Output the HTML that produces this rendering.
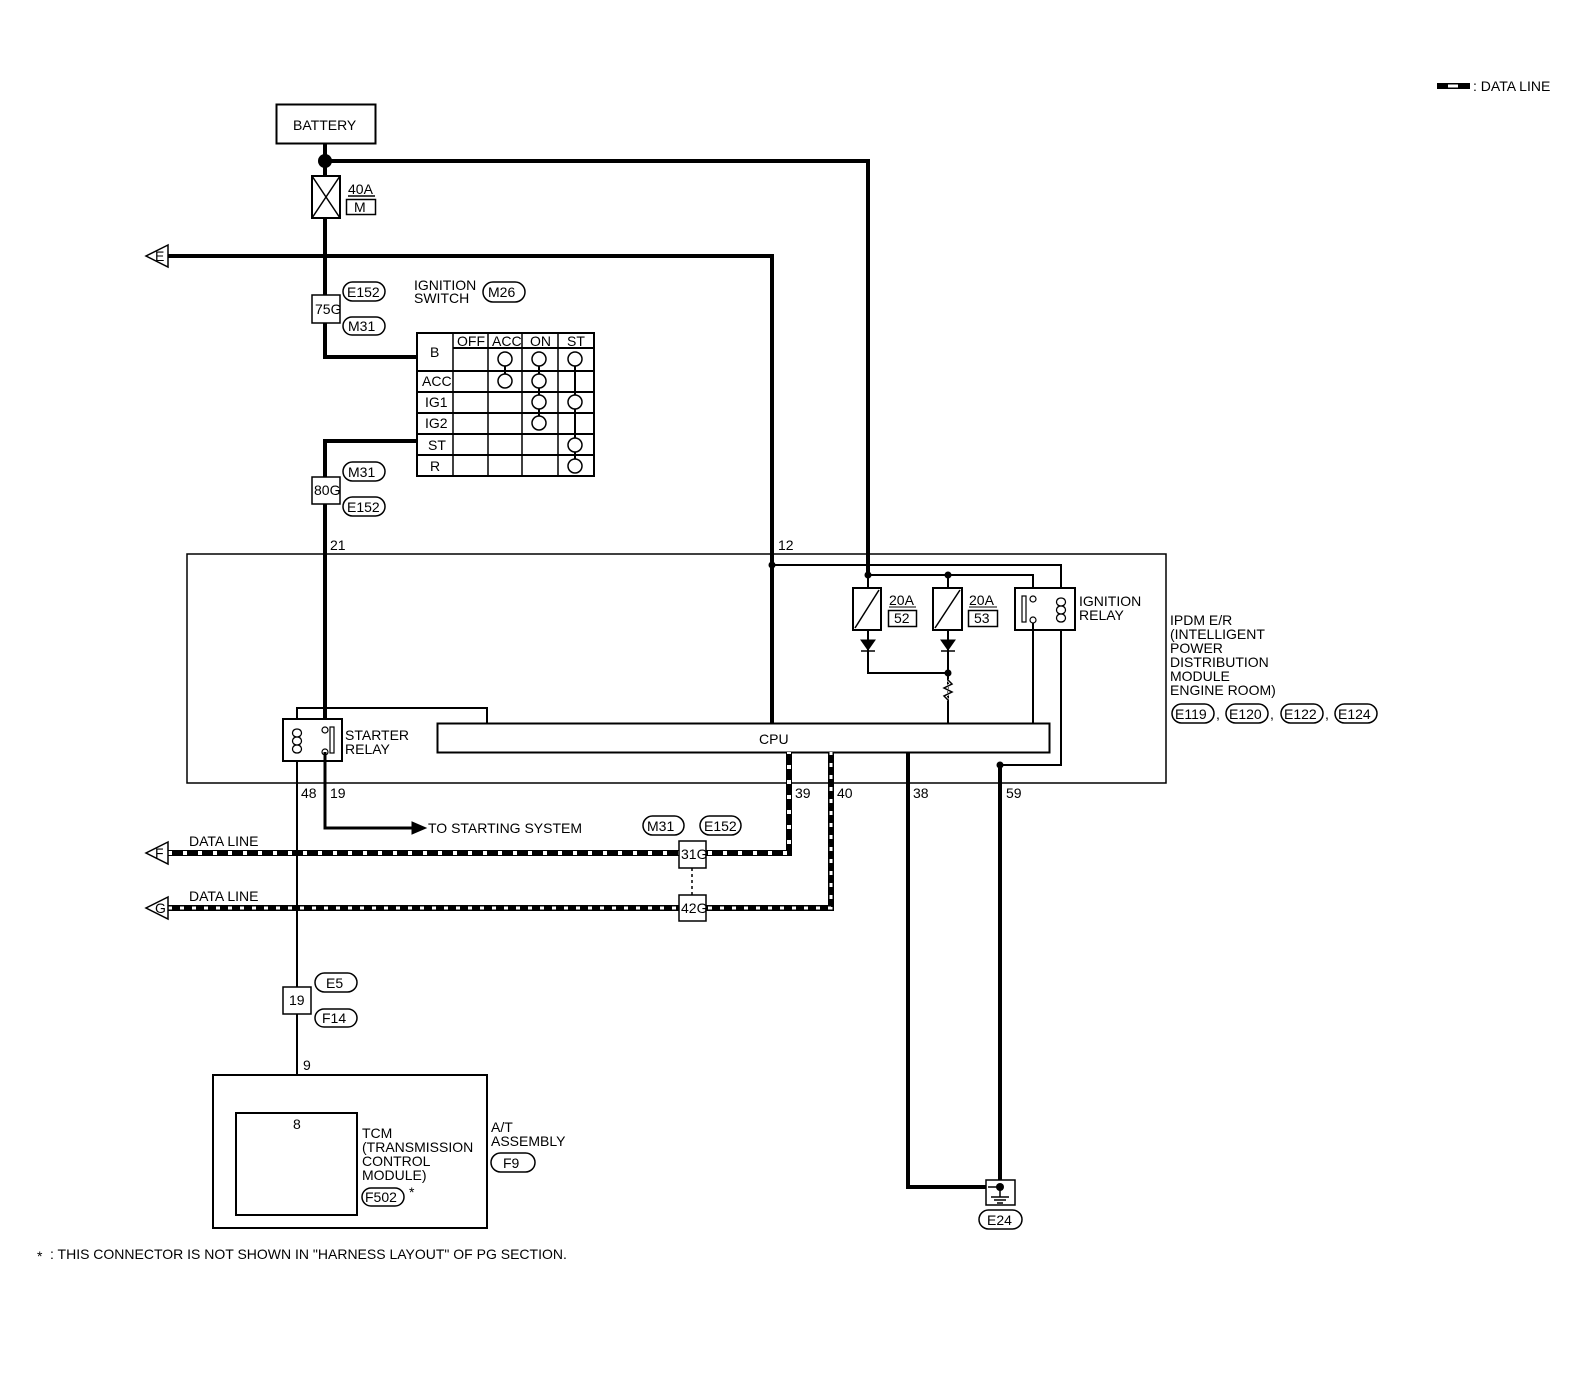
<!DOCTYPE html>
<html><head><style>html,body{margin:0;padding:0;width:1576px;height:1376px;overflow:hidden;background:#fff}svg{display:block}text{font-family:"Liberation Sans",sans-serif;font-size:14px;fill:#000}</style></head>
<body>
<svg width="1576" height="1376" viewBox="0 0 1576 1376" xmlns="http://www.w3.org/2000/svg">
<g fill="none" stroke="#000">
<!-- legend -->
<line x1="1437" y1="86" x2="1470" y2="86" stroke-width="6"/><line x1="1448" y1="86" x2="1458" y2="86" stroke="#fff" stroke-width="3"/>
<!-- battery -->
<rect x="276.5" y="104.5" width="99" height="39" stroke-width="2"/>
<path d="M325 143V357H417" stroke-width="4"/>
<path d="M325 161H868V575" stroke-width="4"/>
<rect x="312" y="176" width="28" height="42" fill="#fff" stroke-width="2"/>
<path d="M312 176L340 218M340 176L312 218" stroke-width="1.5"/>
<rect x="346.5" y="199.5" width="29" height="15" stroke-width="1.5"/>
<line x1="348" y1="196" x2="375" y2="196" stroke-width="1.5"/>
<!-- E line -->
<path d="M168 256H772V723" stroke-width="4"/>
<path d="M168 245L146 256L168 267Z" stroke-width="1.5" fill="#fff"/>
<rect x="312" y="295" width="28" height="28" fill="#fff" stroke-width="1.5"/>
<rect x="343" y="282" width="42" height="19" rx="9.5" stroke-width="1.5"/>
<rect x="343" y="317" width="42" height="18" rx="9" stroke-width="1.5"/>
<rect x="483" y="282" width="42" height="20" rx="10" stroke-width="1.5"/>
<!-- switch table -->
<rect x="417" y="333" width="177" height="143" stroke-width="2"/>
<path d="M417 371H594M417 392H594M417 413H594M417 434H594M417 455H594M453 348H594" stroke-width="2"/>
<path d="M453 333V476M488 333V476M522 333V476M558 333V476" stroke-width="1.5"/>
<path d="M505 359V381M539 359V423M575 359V466" stroke-width="2"/>
<g fill="#fff" stroke-width="1.5">
<circle cx="505" cy="359" r="7"/><circle cx="505" cy="381" r="7"/>
<circle cx="539" cy="359" r="7"/><circle cx="539" cy="381" r="7"/><circle cx="539" cy="402" r="7"/><circle cx="539" cy="423" r="7"/>
<circle cx="575" cy="359" r="7"/><circle cx="575" cy="402" r="7"/><circle cx="575" cy="445" r="7"/><circle cx="575" cy="466" r="7"/>
</g>
<!-- ST wire -->
<path d="M417 441H325V729" stroke-width="4"/>
<rect x="312" y="477" width="28" height="27" fill="#fff" stroke-width="1.5"/>
<rect x="343" y="462" width="42" height="19" rx="9.5" stroke-width="1.5"/>
<rect x="343" y="497" width="42" height="19" rx="9.5" stroke-width="1.5"/>
<!-- IPDM -->
<rect x="187" y="554" width="979" height="229" stroke-width="1.5"/>
<path d="M772 565H1061V765H1000" stroke-width="2"/>
<path d="M868 575H1033V597" stroke-width="2"/>
<path d="M948 575V723" stroke-width="2"/>
<path d="M868 575V673H948" stroke-width="2"/>
<rect x="853" y="588" width="28" height="42" fill="#fff" stroke-width="2"/>
<line x1="855" y1="628" x2="879" y2="590" stroke-width="1.5"/>
<rect x="933" y="588" width="29" height="42" fill="#fff" stroke-width="2"/>
<line x1="935" y1="628" x2="960" y2="590" stroke-width="1.5"/>
<path d="M861 640H875L868 650Z M941 640H955L948 650Z" fill="#000" stroke-width="1"/>
<path d="M861 651H875M941 651H955" stroke-width="1.5"/>
<path d="M948 680L952 684L944 688L952 692L944 696L948 700" stroke="#fff" stroke-width="3"/>
<path d="M948 680L952 684L944 688L952 692L944 696L948 700" stroke-width="1.5"/>
<rect x="888.5" y="610.5" width="28" height="16" stroke-width="1.5"/>
<rect x="968.5" y="610.5" width="29" height="16" stroke-width="1.5"/>
<line x1="889" y1="607" x2="916" y2="607" stroke-width="1"/><line x1="969" y1="607" x2="997" y2="607" stroke-width="1"/>
<!-- ignition relay -->
<rect x="1015" y="588" width="60" height="42" fill="#fff" stroke-width="2"/>
<path d="M1033 620V723" stroke-width="2"/>
<rect x="1022" y="596" width="4" height="26" stroke-width="1.2"/>
<circle cx="1033" cy="599" r="3" fill="#fff" stroke-width="1.2"/><circle cx="1033" cy="620" r="3" fill="#fff" stroke-width="1.2"/>
<path d="M1061 598c-6 0-6 8 0 8c-6 0-6 8 0 8c-6 0-6 8 0 8M1061 598c6 0 6 8 0 8c6 0 6 8 0 8c6 0 6 8 0 8" stroke-width="1.3"/>
<!-- starter relay -->
<path d="M297 719V708H487V723" stroke-width="2"/>
<rect x="283" y="719" width="59" height="42" fill="#fff" stroke-width="2"/>
<rect x="330" y="727" width="4" height="26" stroke-width="1.2"/>
<circle cx="325" cy="730" r="3" fill="#fff" stroke-width="1.2"/><circle cx="325" cy="752" r="3" fill="#fff" stroke-width="1.2"/>
<path d="M297 729c-6 0-6 8 0 8c-6 0-6 8 0 8c-6 0-6 8 0 8M297 729c6 0 6 8 0 8c6 0 6 8 0 8c6 0 6 8 0 8" stroke-width="1.3"/>
<!-- CPU -->
<rect x="437.5" y="723.5" width="612" height="29" fill="#fff" stroke-width="2"/>
<!-- lower wires -->
<path d="M297 761V1075" stroke-width="2"/>
<path d="M325 752V828H412" stroke-width="3"/>
<path d="M412 822L426 828L412 834Z" fill="#000"/>
<path d="M908 752V1187H1000" stroke-width="4"/>
<path d="M1000 765V1187" stroke-width="4"/>
<!-- data lines -->
<path d="M168 853H789V752" stroke-width="6"/>
<path d="M168 853H789V752" stroke="#fff" stroke-width="4" stroke-dasharray="4 11"/>
<path d="M168 908H831V752" stroke-width="6"/>
<path d="M168 908H831V752" stroke="#fff" stroke-width="3" stroke-dasharray="4 8"/>
<path d="M168 842L146 853L168 864Z M168 897L146 908L168 919Z" fill="#fff" stroke-width="1.5"/>
<line x1="692" y1="868" x2="692" y2="895" stroke-width="1.5" stroke-dasharray="3 3"/>
<rect x="679" y="841" width="27" height="27" fill="#fff" stroke-width="1.5"/>
<rect x="679" y="895" width="27" height="26" fill="#fff" stroke-width="1.5"/>
<rect x="643" y="816" width="41" height="19" rx="9.5" stroke-width="1.5"/>
<rect x="700" y="816" width="41" height="19" rx="9.5" stroke-width="1.5"/>
<rect x="283" y="987" width="28" height="27" fill="#fff" stroke-width="1.5"/>
<rect x="315" y="973" width="42" height="19" rx="9.5" stroke-width="1.5"/>
<rect x="315" y="1009" width="42" height="18" rx="9" stroke-width="1.5"/>
<!-- AT -->
<rect x="213" y="1075" width="274" height="153" stroke-width="2"/>
<rect x="236" y="1113" width="121" height="102" stroke-width="2"/>
<rect x="362" y="1188" width="42" height="18" rx="9" stroke-width="1.5"/>
<rect x="491" y="1153" width="44" height="19" rx="9.5" stroke-width="1.5"/>
<!-- IPDM ovals -->
<rect x="1172" y="704" width="42" height="19" rx="9.5" stroke-width="1.5"/>
<rect x="1226" y="704" width="42" height="19" rx="9.5" stroke-width="1.5"/>
<rect x="1281" y="704" width="42" height="19" rx="9.5" stroke-width="1.5"/>
<rect x="1335" y="704" width="42" height="19" rx="9.5" stroke-width="1.5"/>
<!-- ground -->
<rect x="986" y="1180" width="29" height="25" fill="#fff" stroke-width="1.5"/>
<path d="M988 1187H1000V1197M991 1197H1009M994 1200H1006M997 1203H1003" stroke-width="1.5"/>
<rect x="979" y="1210" width="43" height="19" rx="9.5" stroke-width="1.5"/>
</g>
<g fill="#000">
<circle cx="325" cy="161" r="7"/>
<circle cx="772" cy="565" r="3.5"/><circle cx="868" cy="575" r="3.5"/><circle cx="948" cy="575" r="3.5"/><circle cx="948" cy="673" r="3.5"/><circle cx="1000" cy="765" r="3.5"/><circle cx="1000" cy="1187" r="4"/>
</g>
<text x="1473" y="91">: DATA LINE</text>
<text x="293" y="130">BATTERY</text>
<text x="348" y="194">40A</text><text x="354" y="212">M</text>
<text x="155" y="261" font-size="12">E</text>
<text x="347" y="297">E152</text><text x="348" y="331">M31</text>
<text x="315" y="314" font-size="11">75G</text>
<text x="414" y="290">IGNITION</text><text x="414" y="303">SWITCH</text>
<text x="488" y="297">M26</text>
<g font-size="11.5">
<text x="457" y="346">OFF</text><text x="492" y="346">ACC</text><text x="530" y="346">ON</text><text x="567" y="346">ST</text>
<text x="430" y="357">B</text><text x="422" y="386">ACC</text><text x="425" y="407">IG1</text><text x="425" y="428">IG2</text><text x="428" y="450">ST</text><text x="430" y="471">R</text>
<text x="314" y="495" font-size="11">80G</text>
</g>
<text x="348" y="477">M31</text><text x="347" y="512">E152</text>
<text x="330" y="550">21</text><text x="778" y="550">12</text>
<text x="889" y="605">20A</text><text x="894" y="623">52</text>
<text x="969" y="605">20A</text><text x="974" y="623">53</text>
<text x="1079" y="606">IGNITION</text><text x="1079" y="620">RELAY</text>
<text x="1170" y="625">IPDM E/R</text><text x="1170" y="639">(INTELLIGENT</text><text x="1170" y="653">POWER</text><text x="1170" y="667">DISTRIBUTION</text><text x="1170" y="681">MODULE</text><text x="1170" y="695">ENGINE ROOM)</text>
<text x="1175" y="719">E119</text><text x="1216" y="719">,</text><text x="1229" y="719">E120</text><text x="1270" y="719">,</text><text x="1284" y="719">E122</text><text x="1325" y="719">,</text><text x="1338" y="719">E124</text>
<text x="345" y="740">STARTER</text><text x="345" y="754">RELAY</text>
<text x="759" y="744">CPU</text>
<text x="301" y="798">48</text><text x="330" y="798">19</text><text x="795" y="798">39</text><text x="837" y="798">40</text><text x="913" y="798">38</text><text x="1006" y="798">59</text>
<text x="428" y="833">TO STARTING SYSTEM</text>
<text x="189" y="846">DATA LINE</text><text x="189" y="901">DATA LINE</text>
<text x="155" y="858" font-size="12">F</text><text x="155" y="913" font-size="12">G</text>
<text x="647" y="831">M31</text><text x="704" y="831">E152</text>
<text x="681" y="859" font-size="11">31G</text><text x="681" y="913" font-size="11">42G</text>
<text x="326" y="988">E5</text><text x="322" y="1023">F14</text>
<text x="289" y="1005" font-size="12">19</text>
<text x="303" y="1070">9</text><text x="293" y="1129">8</text>
<text x="362" y="1138">TCM</text><text x="362" y="1152">(TRANSMISSION</text><text x="362" y="1166">CONTROL</text><text x="362" y="1180">MODULE)</text>
<text x="365" y="1202" font-size="12">F502</text><text x="409" y="1197" font-size="16">*</text>
<text x="491" y="1132">A/T</text><text x="491" y="1146">ASSEMBLY</text><text x="503" y="1168">F9</text>
<text x="987" y="1225">E24</text>
<text x="37" y="1261" font-size="16">*</text><text x="50" y="1259">: THIS CONNECTOR IS NOT SHOWN IN "HARNESS LAYOUT" OF PG SECTION.</text>
</svg>
</body></html>
